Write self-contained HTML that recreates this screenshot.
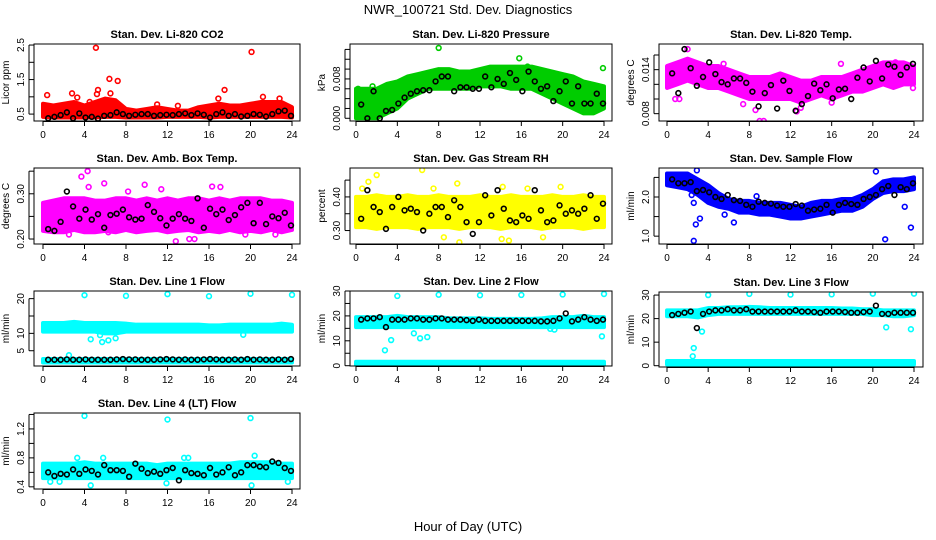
<!DOCTYPE html>
<html><head><meta charset="utf-8"><style>
html,body{margin:0;padding:0;background:#fff;}
svg{display:block;font-family:"Liberation Sans",sans-serif;}
</style></head><body>
<svg id="c" width="936" height="540" viewBox="0 0 936 540">
<text x="468" y="14" text-anchor="middle" font-size="13">NWR_100721  Std. Dev. Diagnostics</text>
<text x="468" y="531" text-anchor="middle" font-size="13">Hour of Day (UTC)</text>
</svg>
<script>
const xTicks=[0,4,8,12,16,20,24];
const blackHours=[0.5,1.1,1.7,2.3,2.9,3.5,4.1,4.7,5.3,5.9,6.5,7.1,7.7,8.3,8.9,9.5,10.1,10.7,11.3,11.9,12.5,13.1,13.7,14.3,14.9,15.5,16.1,16.7,17.3,17.9,18.5,19.1,19.7,20.3,20.9,21.5,22.1,22.7,23.3,23.9];
const bandHours=[0,1,2,3,4,5,6,7,8,9,10,11,12,13,14,15,16,17,18,19,20,21,22,23,24];

// Panel 1 CO2
const co2Lo=[0.42,0.4,0.4,0.4,0.4,0.4,0.42,0.42,0.4,0.4,0.4,0.4,0.42,0.42,0.42,0.42,0.4,0.42,0.42,0.42,0.42,0.42,0.42,0.42,0.4];
const co2Hi=[0.8,0.75,0.8,0.85,0.75,0.85,0.95,0.9,0.65,0.6,0.65,0.7,0.65,0.6,0.6,0.7,0.75,0.8,0.75,0.75,0.8,0.85,0.85,0.85,0.7];
const co2OutH=[5.1,20.1,6.4,7.2,5.3,17.5,0.4,2.8,6.5,5.2,16.9,21.2,22.8,3.3,4.5,11,13];
const co2OutV=[2.42,2.3,1.52,1.46,1.2,1.2,1.05,1.1,1.1,1.08,0.95,1.0,0.95,0.98,0.85,0.78,0.74];
const co2Black=[0.38,0.42,0.47,0.55,0.38,0.52,0.40,0.42,0.37,0.45,0.47,0.55,0.50,0.45,0.48,0.50,0.50,0.45,0.47,0.48,0.47,0.50,0.52,0.47,0.52,0.48,0.40,0.50,0.55,0.45,0.50,0.43,0.45,0.50,0.48,0.43,0.50,0.58,0.60,0.45];
// Panel 2 Pressure
const prLo=[0,0,0,0.001,0.002,0.004,0.005,0.006,0.006,0.006,0.006,0.006,0.0065,0.0065,0.0065,0.006,0.006,0.006,0.005,0.004,0.003,0.002,0.001,0.001,0.002];
const prHi=[0.006,0.006,0.006,0.007,0.0075,0.0085,0.009,0.0095,0.010,0.010,0.0095,0.0095,0.010,0.0105,0.0105,0.0105,0.0105,0.0105,0.010,0.0095,0.009,0.0085,0.0075,0.007,0.0065];
const prOutH=[8,15.8,16.6,23.9,0.2,9.2,1.6,7.3];
const prOutV=[0.0143,0.0122,0.0105,0.0102,0.006,0.0095,0.0065,0.0085];
const prBlack=[0.0028,0.0000,0.0055,0.0000,0.0015,0.0017,0.0030,0.0042,0.0050,0.0055,0.0057,0.0057,0.0075,0.0085,0.0085,0.0055,0.0063,0.0063,0.0060,0.0060,0.0085,0.0063,0.0080,0.0070,0.0092,0.0078,0.0055,0.0095,0.0075,0.0060,0.0065,0.0035,0.0055,0.0075,0.0030,0.0065,0.0030,0.0030,0.0050,0.0030];
// Panel 3 Temp
const tpLo=[0.0115,0.012,0.0125,0.012,0.0115,0.0115,0.011,0.0105,0.010,0.010,0.010,0.010,0.010,0.0095,0.010,0.0105,0.010,0.0105,0.011,0.011,0.0115,0.012,0.0115,0.012,0.012];
const tpHi=[0.0145,0.015,0.0155,0.015,0.0145,0.0145,0.014,0.0135,0.013,0.013,0.013,0.0135,0.013,0.0125,0.0125,0.013,0.013,0.013,0.0135,0.014,0.0145,0.015,0.015,0.015,0.0145];
const tpOutH=[2,9,9.4,8.6,13,16,16.9,5.5,12.6,22.2,23.9,0.8,1.2,7.4];
const tpOutV=[0.0168,0.0070,0.0070,0.0085,0.0088,0.0095,0.0148,0.0148,0.0083,0.0150,0.0115,0.0100,0.0100,0.0093];
const tpBlack=[0.0135,0.0108,0.0168,0.0142,0.0118,0.0130,0.0150,0.0134,0.0123,0.0120,0.0128,0.0128,0.0122,0.0110,0.0090,0.0108,0.0119,0.0087,0.0125,0.0111,0.0084,0.0093,0.0104,0.0121,0.0112,0.0120,0.0101,0.0113,0.0114,0.0100,0.0129,0.0143,0.0124,0.0152,0.0128,0.0147,0.0144,0.0133,0.0143,0.0148];
// Panel 4 Amb box temp
const abLo=[0.218,0.215,0.215,0.22,0.215,0.215,0.218,0.215,0.22,0.215,0.218,0.22,0.215,0.218,0.22,0.215,0.218,0.215,0.22,0.215,0.218,0.215,0.22,0.215,0.22];
const abHi=[0.28,0.285,0.29,0.29,0.29,0.285,0.285,0.29,0.29,0.285,0.29,0.285,0.29,0.285,0.29,0.29,0.285,0.29,0.285,0.29,0.29,0.29,0.285,0.285,0.28];
const abOutH=[4.3,3.7,12.8,14.1,14.6,9.8,16.3,17.1,5.9,4.4,2.5,22.4,1.5,6.3,8.2,19.5,11.4];
const abOutV=[0.35,0.338,0.195,0.2,0.2,0.32,0.316,0.315,0.323,0.315,0.21,0.21,0.22,0.215,0.305,0.21,0.31];
const abBlack=[0.222,0.218,0.238,0.305,0.272,0.245,0.265,0.243,0.255,0.225,0.253,0.256,0.265,0.248,0.243,0.245,0.275,0.260,0.246,0.230,0.245,0.255,0.245,0.240,0.290,0.225,0.267,0.255,0.265,0.242,0.253,0.270,0.280,0.235,0.280,0.233,0.250,0.246,0.258,0.230];
// Panel 5 RH
const rhLo=[0.31,0.31,0.305,0.31,0.31,0.31,0.305,0.31,0.31,0.31,0.305,0.31,0.31,0.31,0.305,0.31,0.31,0.31,0.305,0.31,0.31,0.31,0.305,0.31,0.31];
const rhHi=[0.40,0.40,0.405,0.40,0.40,0.405,0.40,0.40,0.405,0.40,0.40,0.40,0.405,0.40,0.40,0.405,0.40,0.40,0.40,0.405,0.40,0.40,0.405,0.40,0.40];
const rhOutH=[6.4,2,1.2,9.8,14.2,19.8,10,14.8,14.1,18.1,8.5,0.6,7.5,16.6];
const rhOutV=[0.48,0.465,0.445,0.44,0.43,0.43,0.265,0.27,0.275,0.28,0.28,0.425,0.425,0.425];
const rhBlack=[0.335,0.42,0.37,0.355,0.305,0.37,0.40,0.36,0.365,0.355,0.30,0.35,0.37,0.37,0.34,0.39,0.37,0.325,0.29,0.325,0.405,0.345,0.42,0.365,0.33,0.325,0.345,0.335,0.42,0.36,0.325,0.33,0.375,0.35,0.36,0.35,0.365,0.405,0.335,0.38];
// Panel 6 Sample flow
const sfLo=[2.3,2.25,2.2,2.05,1.85,1.75,1.7,1.6,1.6,1.55,1.55,1.5,1.45,1.45,1.5,1.55,1.6,1.65,1.65,1.75,1.95,2.1,2.15,2.15,2.2];
const sfHi=[2.6,2.6,2.6,2.45,2.3,2.1,1.95,1.9,1.9,1.85,1.85,1.85,1.8,1.75,1.85,1.9,1.9,1.95,1.95,2.05,2.2,2.4,2.45,2.45,2.5];
const sfOutH=[2.6,2.8,3.2,6.5,21.2,23.1,23.7,20.3,2.9,2.6,2.4,5.6,8.7];
const sfOutV=[0.88,1.3,1.45,1.35,0.92,1.75,1.22,2.65,2.68,1.85,2.05,1.55,2.02];
const sfBlack=[2.45,2.35,2.35,2.38,2.15,2.18,2.12,2.0,1.95,2.05,1.92,1.90,1.80,1.75,1.88,1.85,1.83,1.78,1.75,1.75,1.82,1.78,1.65,1.68,1.70,1.80,1.60,1.80,1.85,1.82,1.80,1.95,2.0,2.05,2.2,2.28,2.05,2.25,2.2,2.35];
// Panel 7 Line 1
const l1Lo=[10.5,10.5,10.5,10.5,10.5,10.5,10,10,10.5,10.5,10.5,10.5,10.5,10.5,10.5,10.5,10.5,10.5,10.5,10.5,10.5,10.5,10.5,10.5,10.5];
const l1Hi=[13,13,13,13.3,13,13,13,13,12.8,12.5,12.5,12.5,12.5,12.5,12.5,12.5,12.3,12.3,12.5,12.5,12.5,12.5,12.5,12.8,12.5];
const l1Lo2=[1.6,1.6,1.6,1.6,1.6,1.6,1.6,1.6,1.6,1.6,1.6,1.6,1.6,1.6,1.6,1.6,1.6,1.6,1.6,1.6,1.6,1.6,1.6,1.6,1.6];
const l1Hi2=[2.6,2.6,2.6,2.6,2.6,2.6,2.6,2.6,2.6,2.6,2.6,2.6,2.6,2.6,2.6,2.6,2.6,2.6,2.6,2.6,2.6,2.6,2.6,2.6,2.6];
const l1OutH=[4,8,12,16,20,24,4.6,5.7,6.3,5.5,2.5,7,19.3];
const l1OutV=[21,20.8,21.3,20.7,21.4,21.1,8.3,7.5,8,9.5,3.7,8.6,9.6];
const l1Black=[2.4,2.4,2.4,2.5,2.4,2.4,2.5,2.4,2.4,2.4,2.4,2.5,2.6,2.5,2.5,2.4,2.4,2.4,2.5,2.6,2.5,2.4,2.5,2.4,2.4,2.5,2.6,2.5,2.4,2.4,2.5,2.4,2.6,2.4,2.5,2.4,2.4,2.5,2.4,2.6];
// Panel 8 Line 2
const l2Lo=[15.5,15.5,15.5,15.5,15.5,15.5,15.5,15.5,15.5,15.5,15.5,15.5,15.5,15.5,15.5,15.5,15.5,15.5,15.5,15.5,15.5,15.5,15.5,15.5,15.5];
const l2Hi=[19.5,19.5,19.5,19.5,20,19.5,19.5,19.5,19.5,19,19,19,19,18.8,18.8,18.8,18.8,18.8,19,19.5,19.5,19.5,20,19.5,19.5];
const l2Lo2=[0.4,0.4,0.4,0.4,0.4,0.4,0.4,0.4,0.4,0.4,0.4,0.4,0.4,0.4,0.4,0.4,0.4,0.4,0.4,0.4,0.4,0.4,0.4,0.4,0.4];
const l2Hi2=[1.6,1.6,1.6,1.6,1.6,1.6,1.6,1.6,1.6,1.6,1.6,1.6,1.6,1.6,1.6,1.6,1.6,1.6,1.6,1.6,1.6,1.6,1.6,1.6,1.6];
const l2OutH=[4,8,12,16,20,24,2.8,3.4,6.2,6.9,5.6,23.8,19.2,18.8];
const l2OutV=[28,28.5,28.3,28.4,28.6,28.8,6.2,10.3,11,11.5,13,11.8,14.5,14.8];
const l2Black=[18.5,19,19,19.5,15.5,18.5,18.5,18.5,19,19,18.5,18.5,19,19,18.5,18.5,18.5,18.3,18,18.5,18,18,18,18,18,18,18,18,18,17.8,17.8,18,19,21,17.8,18.5,19.5,18.5,18,18.5];
// Panel 9 Line 3
const l3Lo=[21,21,21,20.5,21.5,22,22,22,22,22,22,22,22,22,22,22,22,22,22,22,21.5,21.5,21,21,21.5];
const l3Hi=[23.5,23.5,23.5,23.5,24.5,24.5,24.8,24.8,25,24.8,24.5,24.5,24.5,24.5,24.5,24.5,24.5,24.3,24.3,24,24,23.5,23.5,23.5,23.5];
const l3Lo2=[0.5,0.5,0.5,0.5,0.5,0.5,0.5,0.5,0.5,0.5,0.5,0.5,0.5,0.5,0.5,0.5,0.5,0.5,0.5,0.5,0.5,0.5,0.5,0.5,0.5];
const l3Hi2=[2,2,2,2,2,2,2,2,2,2,2,2,2,2,2,2,2,2,2,2,2,2,2,2,2];
const l3OutH=[4,8,12,16,20,24,3.4,2.6,2.5,21.3,23.7];
const l3OutV=[30,30.5,30.2,30.3,30.6,30.6,14.5,7.5,4,16.3,15.5];
const l3Black=[21.5,22,22.5,23,16,22,23,23.5,23.5,24,23.5,23.5,24,23,23,23,23,23,23,23,23.5,23,23,22.8,22.5,23,23,23,22.8,22.5,22.5,22.8,23,25.5,22,22,22.5,22.5,22.5,22.5];
// Panel 10 Line 4
const l4Lo=[0.52,0.52,0.52,0.52,0.52,0.52,0.52,0.52,0.52,0.52,0.52,0.52,0.52,0.52,0.52,0.52,0.52,0.52,0.52,0.52,0.52,0.52,0.52,0.52,0.52];
const l4Hi=[0.72,0.72,0.72,0.72,0.74,0.72,0.72,0.72,0.72,0.72,0.72,0.7,0.72,0.72,0.72,0.72,0.72,0.72,0.72,0.74,0.74,0.74,0.74,0.72,0.72];
const l4OutH=[4,12,20,4.6,20.1,3.3,5.8,0.7,1.6,11.9,20.4,23.6,13.6,14];
const l4OutV=[1.38,1.33,1.35,0.42,0.42,0.8,0.8,0.47,0.47,0.45,0.83,0.47,0.8,0.8];
const l4Black=[0.6,0.55,0.58,0.57,0.64,0.58,0.64,0.62,0.57,0.70,0.63,0.63,0.62,0.54,0.72,0.65,0.59,0.61,0.58,0.63,0.66,0.49,0.63,0.59,0.58,0.56,0.66,0.57,0.6,0.67,0.56,0.6,0.7,0.7,0.68,0.67,0.75,0.73,0.66,0.62];

const NS='http://www.w3.org/2000/svg';
const svg=document.getElementById('c');
function el(tag,attrs,parent){const e=document.createElementNS(NS,tag);for(const k in attrs)e.setAttribute(k,attrs[k]);(parent||svg).appendChild(e);return e;}

const cols=[{l:34,r:300,x0:43,x24:292},{l:350,r:612,x0:356,x24:604},{l:659,r:923,x0:667,x24:914}];
const panels=[
 {id:'co2',title:'Stan. Dev. Li-820 CO2',yt:'Licor ppm',col:0,top:44,bot:121,dom:[0.30,2.53],color:'#ff0000',lo:co2Lo,hi:co2Hi,oh:co2OutH,ov:co2OutV,blk:co2Black,ticks:[0.5,1,1.5,2,2.5],labels:['0.5','','1.5','','2.5']},
 {id:'pressure',title:'Stan. Dev. Li-820 Pressure',yt:'kPa',col:1,top:44,bot:121,dom:[-0.00055,0.0151],color:'#00cc00',lo:prLo,hi:prHi,oh:prOutH,ov:prOutV,blk:prBlack,ticks:[0,0.002,0.004,0.006,0.008,0.010,0.012,0.014],labels:['0.000','','','','0.008','','','']},
 {id:'temp',title:'Stan. Dev. Li-820 Temp.',yt:'degrees C',col:2,top:44,bot:121,dom:[0.0070,0.0175],color:'#ff00ff',lo:tpLo,hi:tpHi,oh:tpOutH,ov:tpOutV,blk:tpBlack,ticks:[0.008,0.010,0.012,0.014,0.016],labels:['0.008','','','0.014','']},
 {id:'amb-box-temp',title:'Stan. Dev. Amb. Box Temp.',yt:'degrees C',col:0,top:168,bot:244,dom:[0.189,0.357],color:'#ff00ff',lo:abLo,hi:abHi,oh:abOutH,ov:abOutV,blk:abBlack,ticks:[0.2,0.25,0.3,0.35],labels:['0.20','','0.30','']},
 {id:'gas-rh',title:'Stan. Dev. Gas Stream RH',yt:'percent',col:1,top:168,bot:244,dom:[0.26,0.486],color:'#ffff00',lo:rhLo,hi:rhHi,oh:rhOutH,ov:rhOutV,blk:rhBlack,ticks:[0.3,0.35,0.4,0.45],labels:['0.30','','0.40','']},
 {id:'sample-flow',title:'Stan. Dev. Sample Flow',yt:'ml/min',col:2,top:168,bot:244,dom:[0.80,2.74],color:'#0000ff',lo:sfLo,hi:sfHi,oh:sfOutH,ov:sfOutV,blk:sfBlack,ticks:[1,1.5,2,2.5],labels:['1.0','','2.0','']},
 {id:'line1',title:'Stan. Dev. Line 1 Flow',yt:'ml/min',col:0,top:291,bot:366,dom:[0.6,22.2],color:'#00ffff',lo:l1Lo,hi:l1Hi,lo2:l1Lo2,hi2:l1Hi2,oh:l1OutH,ov:l1OutV,blk:l1Black,ticks:[5,10,15,20],labels:['5','10','','20']},
 {id:'line2',title:'Stan. Dev. Line 2 Flow',yt:'ml/min',col:1,top:291,bot:366,dom:[-0.12,30],color:'#00ffff',lo:l2Lo,hi:l2Hi,lo2:l2Lo2,hi2:l2Hi2,oh:l2OutH,ov:l2OutV,blk:l2Black,ticks:[0,5,10,15,20,25,30],labels:['0','','10','','20','','30']},
 {id:'line3',title:'Stan. Dev. Line 3 Flow',yt:'ml/min',col:2,top:292,bot:367,dom:[-0.55,31.3],color:'#00ffff',lo:l3Lo,hi:l3Hi,lo2:l3Lo2,hi2:l3Hi2,oh:l3OutH,ov:l3OutV,blk:l3Black,ticks:[0,10,20,30],labels:['0','10','20','30']},
 {id:'line4',title:'Stan. Dev. Line 4 (LT) Flow',yt:'ml/min',col:0,top:413,bot:489,dom:[0.37,1.42],color:'#00ffff',lo:l4Lo,hi:l4Hi,oh:l4OutH,ov:l4OutV,blk:l4Black,ticks:[0.4,0.6,0.8,1.0,1.2,1.4],labels:['0.4','','0.8','','1.2','']}
];

panels.forEach(p=>{
 const c=cols[p.col];
 const xs=h=>c.x0+(c.x24-c.x0)*h/24;
 const ys=v=>p.bot-(v-p.dom[0])/(p.dom[1]-p.dom[0])*(p.bot-p.top);
 const g=el('g',{});
 
 
 const t=el('text',{x:(c.l+c.r)/2,y:p.top-6,'text-anchor':'middle','font-size':'11','font-weight':'bold'},g);
 t.textContent=p.title;
 
 
 const yt=el('text',{transform:`translate(${c.l-25},${(p.top+p.bot)/2}) rotate(-90)`,'text-anchor':'middle','font-size':'10'},g);
 yt.textContent=p.yt;
 
 
 const clip=el('clipPath',{id:'cp-'+p.id},g);
 el('rect',{x:c.l,y:p.top,width:c.r-c.l,height:p.bot-p.top},clip);
 const marks=el('g',{'clip-path':`url(#cp-${p.id})`},g);
 const bands=[[p.lo,p.hi]];if(p.lo2)bands.push([p.lo2,p.hi2]);
 bands.forEach((b,bi)=>{
  let pts=bandHours.map((h,i)=>`${xs(h)},${ys(b[1][i])}`);
  pts=pts.concat(bandHours.slice().reverse().map((h,j)=>{const i=bandHours.length-1-j;return `${xs(h)},${ys(b[0][i])}`;}));
  const poly=el('polygon',{points:pts.join(' '),fill:p.color,stroke:p.color,'stroke-width':'4','stroke-linejoin':'round'},marks);
  
  
 });
 p.oh.forEach((h,i)=>{
  const cc=el('circle',{cx:xs(h),cy:ys(p.ov[i]),r:2.4,fill:'none',stroke:p.color,'stroke-width':1.6},marks);
  
  
 });
 blackHours.forEach((h,i)=>{
  const cc=el('circle',{cx:xs(h),cy:ys(p.blk[i]),r:2.4,fill:'none',stroke:'#000','stroke-width':1.6},marks);
  
  
 });
 const box=el('rect',{x:c.l,y:p.top,width:c.r-c.l,height:p.bot-p.top,fill:'none',stroke:'#000','stroke-width':1},g);
 
 
 const xa=el('g',{},g);
 
 
 el('line',{x1:xs(0),x2:xs(24),y1:p.bot+0.5,y2:p.bot+0.5,stroke:'#000'},xa);
 xTicks.forEach(v=>{
  el('line',{x1:xs(v),x2:xs(v),y1:p.bot,y2:p.bot+5,stroke:'#000'},xa);
  const tl=el('text',{x:xs(v),y:p.bot+17,'text-anchor':'middle','font-size':'10'},xa);
  tl.textContent=String(v);
 });
 const ya=el('g',{},g);
 
 
 el('line',{x1:c.l-5,x2:c.l-5,y1:ys(p.ticks[0]),y2:ys(p.ticks[p.ticks.length-1]),stroke:'#000'},ya);
 p.ticks.forEach((v,i)=>{
  el('line',{x1:c.l-5,x2:c.l,y1:ys(v),y2:ys(v),stroke:'#000'},ya);
  if(p.labels[i]){
   const tl=el('text',{transform:`translate(${c.l-10},${ys(v)}) rotate(-90)`,'text-anchor':'middle','font-size':'10'},ya);
   tl.textContent=p.labels[i];
  }
 });
});
</script>
</body></html>
